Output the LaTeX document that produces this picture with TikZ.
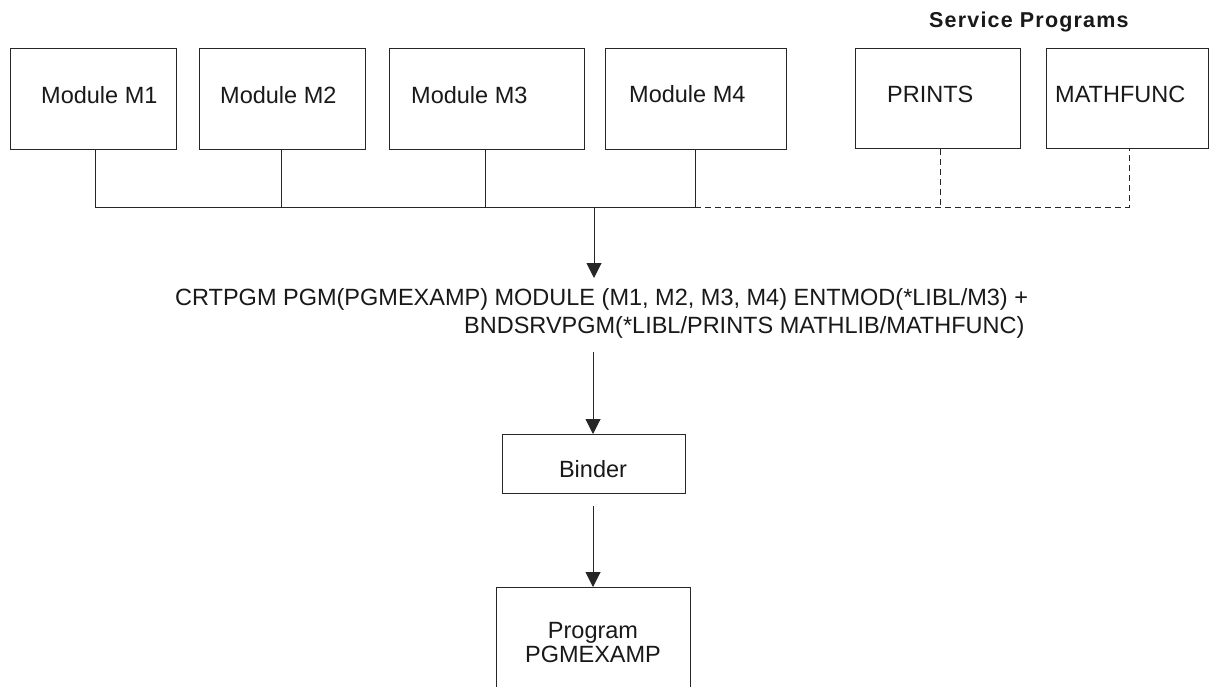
\documentclass[tikz,border=0pt]{standalone}
\usepackage{fontspec}
\setmainfont{Liberation Sans}
\usetikzlibrary{arrows.meta}
\begin{document}
\begin{tikzpicture}[x=1pt,y=-1pt,
  box/.style={draw=black!85, line width=1.1pt, inner sep=0pt, anchor=north west},
  lbl/.style={font=\fontsize{23.5}{28}\selectfont, text=black!90, inner sep=0pt, anchor=base west},
  conn/.style={draw=black!85, line width=1pt},
  dconn/.style={conn, dash pattern=on 6pt off 4pt},
  arr/.style={conn, -{Triangle[length=15pt,width=15pt]}}]
\useasboundingbox (0,0) rectangle (1209,686);
\fill[white] (0,0) rectangle (1209,686);
% boxes
\node[box, minimum width=166pt, minimum height=101pt] (m1) at (10,48) {};
\node[box, minimum width=166pt, minimum height=101pt] (m2) at (199,48) {};
\node[box, minimum width=195pt, minimum height=101pt] (m3) at (389,48) {};
\node[box, minimum width=181pt, minimum height=101pt] (m4) at (605,48) {};
\node[box, minimum width=165pt, minimum height=100pt] (pr) at (855,48) {};
\node[box, minimum width=162pt, minimum height=100pt] (mf) at (1046,48) {};
\node[box, minimum width=183pt, minimum height=59pt] (bd) at (502,434) {};
\node[box, minimum width=194pt, minimum height=140pt] (pg) at (496,587) {};
% texts
\node[lbl] (t1) at (41,103) {Module M1};
\node[lbl] (t2) at (220,103) {Module M2};
\node[lbl] (t3) at (411,103) {Module M3};
\node[lbl] (t4) at (629,102) {Module M4};
\node[lbl] (t5) at (887,102) {PRINTS};
\node[lbl] (t6) at (1055,102) {MATHFUNC};
\node[lbl, font=\fontsize{21.5}{25}\selectfont\bfseries\addfontfeatures{LetterSpace=5.5}] (sp) at (929,27) {Service Programs};
\node[lbl] (c1) at (175,305) {CRTPGM PGM(PGMEXAMP) MODULE (M1, M2, M3, M4) ENTMOD(*LIBL/M3) +};
\node[lbl] (c2) at (464,333) {BNDSRVPGM(*LIBL/PRINTS MATHLIB/MATHFUNC)};
\node[lbl, anchor=base] (bt) at (593,477) {Binder};
\node[lbl, anchor=base] (p1) at (593,638) {Program};
\node[lbl, anchor=base] (p2) at (593,662) {PGMEXAMP};
% bus
\coordinate (b1) at (95,207);
\coordinate (b2) at (281,207);
\coordinate (b3) at (485,207);
\coordinate (b4) at (695,207);
\coordinate (b5) at (940,207);
\coordinate (b6) at (1129,207);
\coordinate (ba) at (594,207);
\coordinate (tip1) at (594,278);
\coordinate (s2) at (593,352);
\coordinate (s3) at (593,506);
\draw[conn] (m1.south -| b1) -- (b1) -- (b4);
\draw[conn] (m2.south -| b2) -- (b2);
\draw[conn] (m3.south -| b3) -- (b3);
\draw[conn] (m4.south -| b4) -- (b4);
\draw[dconn] (b4) -- (b6) -- (mf.south -| b6);
\draw[dconn] (pr.south -| b5) -- (b5);
\draw[arr] (ba) -- (tip1);
\draw[arr] (s2) -- (bd.north -| s2);
\draw[arr] (s3) -- (pg.north -| s3);
\end{tikzpicture}
\end{document}
